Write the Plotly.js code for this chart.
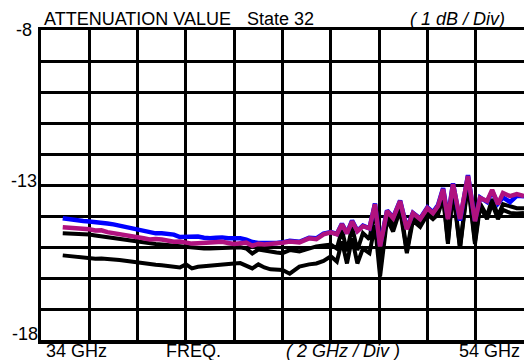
<!DOCTYPE html>
<html>
<head>
<meta charset="utf-8">
<script src="https://cdn.plot.ly/plotly-3.0.1.min.js"></script>
<style>html,body{margin:0;padding:0;background:#fff;}#chart{width:524px;height:360px;}</style>
</head>
<body>
<div id="chart"></div>
<script>
// Frequency points (GHz)
var freq = [34.9,35.25,35.5,35.75,36.0,36.25,36.5,36.75,37.0,37.25,37.5,37.75,38.0,38.25,38.5,38.75,39.0,39.25,39.5,39.75,40.0,40.25,40.5,40.75,41.0,41.25,41.5,41.75,42.0,42.25,42.5,42.75,43.0,43.25,43.5,43.75,44.0,
  44.3,44.7,45.1,45.4,45.7,46.0,46.25,46.46,46.67,46.88,47.1,47.33,47.6,47.83,48.04,48.33,48.58,48.87,49.15,49.4,49.7,50.0,50.23,50.44,50.65,50.85,51.06,51.35,51.68,51.97,52.18,52.47,52.68,52.92,53.13,53.42,53.7,54.0];

// Attenuation values (dB)
var magentaVals = [-14.36,-14.38,-14.42,-14.40,-14.43,-14.47,-14.46,-14.52,-14.55,-14.57,-14.60,-14.64,-14.67,-14.72,-14.76,-14.74,-14.76,-14.79,-14.83,-14.82,-14.86,-14.89,-14.88,-14.86,-14.84,-14.82,-14.83,-14.87,-14.90,-14.88,-14.86,-14.96,-14.90,-14.92,-14.91,-14.90,-14.86,
  -14.82,-14.85,-14.72,-14.75,-14.59,-14.53,-14.59,-14.27,-14.56,-14.17,-14.49,-14.33,-14.40,-13.62,-14.98,-13.84,-14.07,-13.52,-14.43,-13.91,-14.10,-13.75,-13.91,-13.68,-13.13,-14.10,-12.97,-14.10,-12.71,-14.17,-13.42,-13.52,-13.16,-13.62,-13.26,-13.36,-13.29,-13.36];

var blueVals = [-14.07,-14.12,-14.13,-14.16,-14.18,-14.19,-14.21,-14.24,-14.27,-14.31,-14.35,-14.38,-14.42,-14.45,-14.50,-14.56,-14.56,-14.57,-14.60,-14.68,-14.67,-14.66,-14.66,-14.70,-14.72,-14.70,-14.69,-14.72,-14.72,-14.72,-14.76,-14.84,-14.87,-14.88,-14.88,-14.87,-14.85,
  -14.80,-14.83,-14.70,-14.72,-14.57,-14.52,-14.58,-14.25,-14.55,-14.15,-14.48,-14.31,-14.40,-13.60,-14.95,-13.82,-14.05,-13.50,-14.40,-13.90,-14.08,-13.72,-13.88,-13.65,-13.10,-14.05,-12.95,-14.15,-12.68,-14.15,-13.40,-13.55,-13.20,-13.60,-13.40,-13.55,-13.35,-13.36];

var blackUpperVals = [-14.56,-14.57,-14.60,-14.58,-14.60,-14.63,-14.66,-14.69,-14.72,-14.75,-14.77,-14.80,-14.84,-14.86,-14.88,-14.90,-14.92,-14.94,-14.97,-14.98,-15.00,-15.03,-15.05,-15.05,-15.05,-15.04,-15.03,-15.02,-15.01,-15.01,-15.05,-15.21,-15.08,-15.12,-15.16,-15.18,-15.20,
  -15.10,-15.14,-15.05,-14.98,-14.95,-14.92,-15.05,-14.45,-15.14,-14.35,-15.10,-14.55,-14.75,-13.72,-15.73,-13.94,-14.30,-13.65,-15.14,-14.00,-14.25,-13.85,-14.02,-13.85,-13.30,-14.82,-13.10,-15.00,-12.85,-14.82,-13.60,-14.00,-13.45,-14.00,-13.62,-13.70,-13.75,-13.75];

var blackLowerVals = [-15.27,-15.30,-15.33,-15.36,-15.35,-15.38,-15.37,-15.40,-15.40,-15.42,-15.45,-15.48,-15.51,-15.53,-15.55,-15.57,-15.59,-15.61,-15.63,-15.66,-15.56,-15.69,-15.64,-15.62,-15.58,-15.56,-15.54,-15.53,-15.53,-15.52,-15.60,-15.69,-15.56,-15.66,-15.72,-15.73,-15.74,
  -15.86,-15.63,-15.56,-15.53,-15.45,-15.30,-15.47,-14.82,-15.53,-14.72,-15.53,-15.05,-15.20,-14.30,-15.95,-14.10,-14.50,-13.80,-15.20,-14.15,-14.35,-13.95,-14.10,-13.95,-13.40,-14.90,-13.20,-15.05,-12.95,-14.90,-13.70,-14.10,-13.60,-14.10,-13.80,-13.90,-13.92,-13.90];

var yTickLabels = ['-8','-13','-18'];
var xTickLabels = ['34 GHz','54 GHz'];

var FONT = 'Liberation Sans, Arial, sans-serif';
var FS = 18;

var traces = [
  {x: freq, y: blackLowerVals, mode: 'lines', line: {color: '#000000', width: 4}},
  {x: freq, y: blackUpperVals, mode: 'lines', line: {color: '#000000', width: 4}},
  {x: freq, y: blueVals, mode: 'lines', line: {color: '#0000FF', width: 4.5}},
  {x: freq, y: magentaVals, mode: 'lines', line: {color: '#B0127F', width: 4.5}}
];

function px2x(p){ return (p - 41) / 483; }
function py2y(p){ return (340 - p) / 310; }

var ann = [
  {text: yTickLabels[0], xref: 'paper', yref: 'paper', x: 0, y: py2y(30), xanchor: 'right', yanchor: 'middle', xshift: -8},
  {text: yTickLabels[1], xref: 'paper', yref: 'paper', x: 0, y: py2y(181), xanchor: 'right', yanchor: 'middle', xshift: -3},
  {text: yTickLabels[2], xref: 'paper', yref: 'paper', x: 0, y: py2y(334), xanchor: 'right', yanchor: 'middle', xshift: -2},
  {text: xTickLabels[0], xref: 'paper', yref: 'paper', x: px2x(45), y: py2y(351), xanchor: 'left', yanchor: 'middle'},
  {text: 'FREQ.', xref: 'paper', yref: 'paper', x: px2x(165), y: py2y(351), xanchor: 'left', yanchor: 'middle'},
  {text: '<i>( 2 GHz / Div )</i>', xref: 'paper', yref: 'paper', x: px2x(285), y: py2y(351), xanchor: 'left', yanchor: 'middle'},
  {text: xTickLabels[1], xref: 'paper', yref: 'paper', x: px2x(521), y: py2y(351), xanchor: 'right', yanchor: 'middle'},
  {text: 'ATTENUATION VALUE', xref: 'paper', yref: 'paper', x: px2x(43), y: py2y(19.5), xanchor: 'left', yanchor: 'middle'},
  {text: 'State 32', xref: 'paper', yref: 'paper', x: px2x(315), y: py2y(19.5), xanchor: 'right', yanchor: 'middle'},
  {text: '<i>( 1 dB / Div)</i>', xref: 'paper', yref: 'paper', x: px2x(409), y: py2y(19.5), xanchor: 'left', yanchor: 'middle'}
];
ann.forEach(function(a){ a.showarrow = false; a.font = {family: FONT, size: FS, color: '#000'}; a.borderpad = 0; });

var layout = {
  width: 524, height: 360,
  margin: {l: 41, r: 0, t: 30, b: 20, pad: 0},
  paper_bgcolor: '#fff', plot_bgcolor: '#fff',
  showlegend: false,
  xaxis: {range: [34, 54], dtick: 2, tick0: 34, showgrid: true, gridcolor: '#000', gridwidth: 3,
          showticklabels: false, ticks: '', zeroline: false, showline: true, linecolor: '#000', linewidth: 3.5, mirror: true, fixedrange: true},
  yaxis: {range: [-18, -8], dtick: 1, tick0: -18, showgrid: true, gridcolor: '#000', gridwidth: 3,
          showticklabels: false, ticks: '', zeroline: false, showline: true, linecolor: '#000', linewidth: 3.5, mirror: true, fixedrange: true},
  annotations: ann
};

Plotly.newPlot('chart', traces, layout, {staticPlot: true, displayModeBar: false});
</script>
</body>
</html>
